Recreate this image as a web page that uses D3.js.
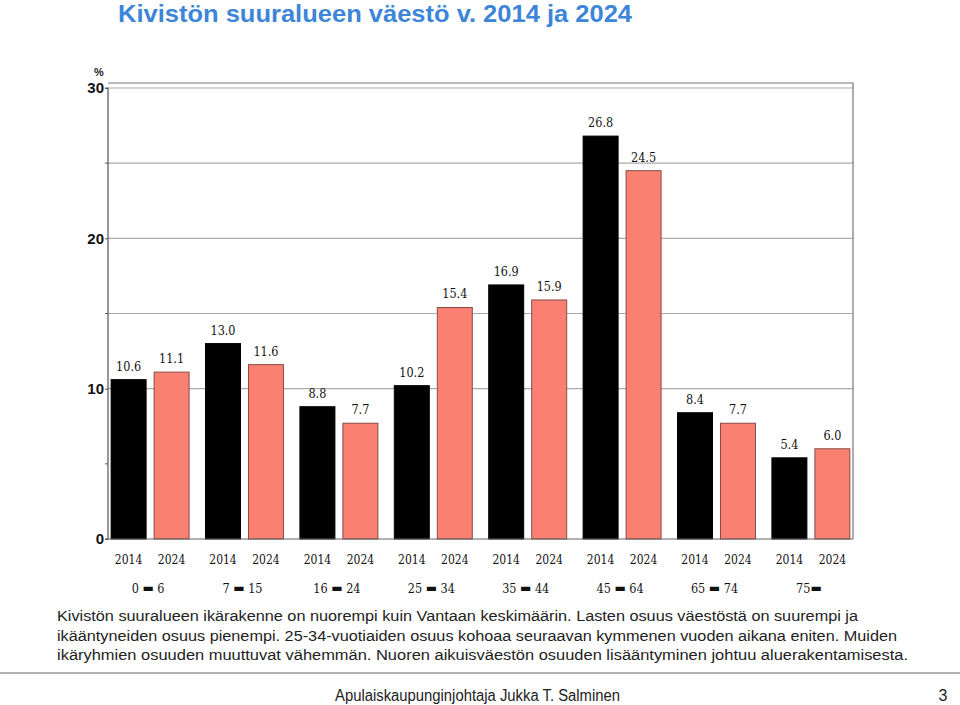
<!DOCTYPE html>
<html><head><meta charset="utf-8">
<script src="https://cdn.jsdelivr.net/npm/d3@7"></script>
<style>body{margin:0;background:#fff}svg{display:block}</style>
</head><body>
<script>
const ageGroups = ["0 - 6","7 - 15","16 - 24","25 - 34","35 - 44","45 - 64","65 - 74","75-"];
const years = ["2014","2024"];
const values2014 = [10.6, 13.0, 8.8, 10.2, 16.9, 26.8, 8.4, 5.4];
const values2024 = [11.1, 11.6, 7.7, 15.4, 15.9, 24.5, 7.7, 6.0];
const yTicks = [0, 10, 20, 30];
const gridValues = [10, 15, 20, 25, 30];
const minorTicks = [5, 15, 25];
const title = "Kivistön suuralueen väestö v. 2014 ja 2024";
const bodyLines = [
 "Kivistön suuralueen ikärakenne on nuorempi kuin Vantaan keskimäärin. Lasten osuus väestöstä on suurempi ja",
 "ikääntyneiden osuus pienempi. 25-34-vuotiaiden osuus kohoaa seuraavan kymmenen vuoden aikana eniten. Muiden",
 "ikäryhmien osuuden muuttuvat vähemmän. Nuoren aikuisväestön osuuden lisääntyminen johtuu aluerakentamisesta."
];
const footer = "Apulaiskaupunginjohtaja Jukka T. Salminen";
const pageNo = "3";

(function() {
const W = 960, H = 705;
const svg = d3.select("body").append("svg").attr("width", W).attr("height", H);

// title
svg.append("text").attr("x", 118).attr("y", 22)
  .attr("font-family", "Liberation Sans, Arial, sans-serif").attr("font-weight", "bold")
  .attr("font-size", 24).attr("fill", "#3D85D8")
  .attr("textLength", 514).attr("lengthAdjust", "spacingAndGlyphs")
  .text(title);

const pLeft = 108, pRight = 853, pTop = 83;
const y = d3.scaleLinear().domain([0, 30]).range([539, 88]);
const x0 = d3.scaleBand().domain(ageGroups).range([pLeft, pRight]).paddingInner(0.174).paddingOuter(0.033);
const x1 = d3.scaleBand().domain(years).range([0, x0.bandwidth()]).paddingInner(0.186);

// gridlines
svg.append("g").selectAll("line").data(gridValues).join("line")
  .attr("x1", pLeft).attr("x2", pRight).attr("y1", d => y(d)).attr("y2", d => y(d))
  .attr("stroke", "#aaa").attr("stroke-width", 1.2);

// frame top/right
svg.append("path").attr("d", `M${pLeft},${pTop}H${pRight}V${y(0)}`).attr("fill", "none").attr("stroke", "#777").attr("stroke-width", 1.2);

// bars
const data = ageGroups.map((g, i) => ({g, vals: [{year: "2014", v: values2014[i]}, {year: "2024", v: values2024[i]}]}));
const groups = svg.append("g").selectAll("g").data(data).join("g")
  .attr("transform", d => `translate(${x0(d.g)},0)`);
groups.selectAll("rect").data(d => d.vals).join("rect")
  .attr("x", d => x1(d.year)).attr("width", x1.bandwidth())
  .attr("y", d => y(d.v)).attr("height", d => y(0) - y(d.v))
  .attr("fill", d => d.year === "2014" ? "#000" : "#FA8072")
  .attr("stroke", d => d.year === "2014" ? "#000" : "#8a4a44").attr("stroke-width", 1);
groups.selectAll("text.val").data(d => d.vals).join("text").attr("class", "val")
  .attr("x", d => x1(d.year) + x1.bandwidth() / 2).attr("y", d => y(d.v) - 9)
  .attr("text-anchor", "middle").attr("font-family", "DejaVu Serif Condensed, DejaVu Serif, serif")
  .attr("font-size", 12.5).attr("fill", "#111").text(d => d.v.toFixed(1));
groups.selectAll("text.yr").data(d => d.vals).join("text").attr("class", "yr")
  .attr("x", d => x1(d.year) + x1.bandwidth() / 2).attr("y", 564)
  .attr("text-anchor", "middle").attr("font-family", "DejaVu Serif Condensed, DejaVu Serif, serif")
  .attr("font-size", 12).attr("fill", "#111").text(d => d.year);
// age group labels with heavy dash
groups.each(function(d) {
  const t = d3.select(this).append("text").attr("x", x0.bandwidth() / 2 - 2).attr("y", 593)
    .attr("text-anchor", "middle").attr("font-family", "DejaVu Serif Condensed, DejaVu Serif, serif")
    .attr("font-size", 12.5).attr("fill", "#111");
  const m = d.g.match(/^(\d+)\s*-\s*(\d*)$/);
  const dash = (sel) => sel.append("tspan").attr("font-family", "DejaVu Sans, sans-serif")
    .attr("font-size", 12).attr("dy", -1).text("\u25AC");
  if (m[2]) {
    t.append("tspan").text(m[1] + " ");
    dash(t);
    t.append("tspan").attr("dy", 1).text(" " + m[2]);
  } else {
    t.append("tspan").text(m[1]);
    dash(t);
  }
});

// y axis
const yAxis = d3.axisLeft(y).tickValues(yTicks).tickSize(3).tickFormat(d3.format("d"));
const ga = svg.append("g").attr("transform", `translate(${pLeft},0)`).call(yAxis);
ga.select(".domain").attr("stroke", "#555").attr("stroke-width", 1.2).attr("d", `M-3,${y(30)}H0V${y(0)}H-3`);
ga.selectAll(".tick line").attr("stroke", "#555");
ga.selectAll(".tick text").attr("font-family", "Liberation Sans Narrow, Liberation Sans, Arial, sans-serif")
  .attr("font-weight", "bold").attr("font-size", 15).attr("fill", "#111").attr("x", -4);
svg.append("g").selectAll("line").data(minorTicks).join("line")
  .attr("x1", pLeft - 3).attr("x2", pLeft).attr("y1", d => y(d)).attr("y2", d => y(d)).attr("stroke", "#555");
// bottom axis line
svg.append("line").attr("x1", pLeft).attr("x2", pRight).attr("y1", y(0)).attr("y2", y(0)).attr("stroke", "#666").attr("stroke-width", 1.2);
// percent
svg.append("text").attr("x", 99).attr("y", 76).attr("text-anchor", "middle")
  .attr("font-family", "Liberation Sans, Arial, sans-serif").attr("font-weight", "bold").attr("font-size", 11).attr("fill", "#222").text("%");

// body text
const targets = [801, 840, 851];
svg.append("g").selectAll("text").data(bodyLines).join("text")
  .attr("x", 57).attr("y", (d, i) => 621 + i * 19.5)
  .attr("font-family", "Liberation Sans, Arial, sans-serif").attr("font-size", 15.5).attr("fill", "#222")
  .attr("textLength", (d, i) => targets[i]).attr("lengthAdjust", "spacingAndGlyphs")
  .text(d => d);

// separator
svg.append("line").attr("x1", 0).attr("x2", W).attr("y1", 673).attr("y2", 673).attr("stroke", "#999").attr("stroke-width", 1.5);
svg.append("text").attr("x", 335).attr("y", 701)
  .attr("font-family", "Liberation Sans, Arial, sans-serif").attr("font-size", 16).attr("fill", "#222")
  .attr("textLength", 285).attr("lengthAdjust", "spacingAndGlyphs").text(footer);
svg.append("text").attr("x", 943).attr("y", 701).attr("text-anchor", "middle")
  .attr("font-family", "Liberation Sans, Arial, sans-serif").attr("font-size", 16).attr("fill", "#222").text(pageNo);
})();
</script>
</body></html>
